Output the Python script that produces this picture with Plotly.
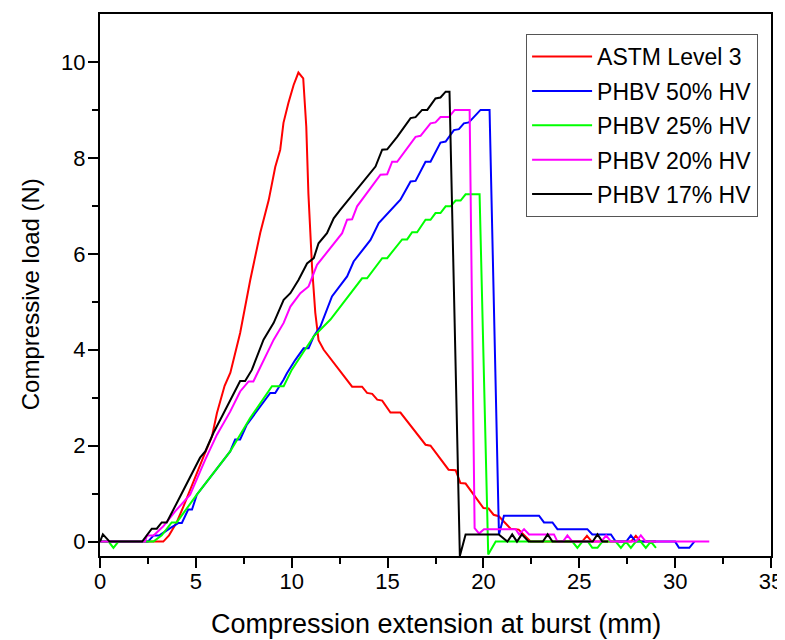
import plotly.graph_objects as go

# ---- data ----
astm_x = [0, 3.3, 3.6, 4.0, 4.35, 5.05, 5.4, 5.84, 6.1, 6.5, 6.8, 7.31, 7.84, 8.36, 8.8, 9.14, 9.4, 9.57, 9.83,
          10.1, 10.35, 10.6, 10.76, 10.87, 11.06, 11.23, 11.4, 11.67, 12.0, 12.54, 13.15, 13.67, 13.93, 14.2,
          14.46, 14.72, 15.15, 15.67, 16.98, 17.24, 18.18, 18.55, 18.8, 19.07, 20.0, 20.27, 20.53, 20.8, 21.42,
          21.84, 22.47, 25.15, 25.4, 25.65, 27.7, 27.95, 28.2, 29.0]
astm_y = [0, 0, 0.13, 0.4, 0.73, 1.44, 1.77, 2.19, 2.68, 3.25, 3.52, 4.35, 5.46, 6.44, 7.12, 7.81, 8.17, 8.73, 9.15,
          9.52, 9.78, 9.66, 8.65, 7.26, 5.73, 4.77, 4.2, 4.0, 3.83, 3.55, 3.23, 3.23, 3.1, 3.08,
          2.96, 2.94, 2.69, 2.69, 2.02, 2.0, 1.5, 1.49, 1.22, 1.21, 0.7, 0.69, 0.56, 0.53, 0.27,
          0.25, 0, 0, 0.12, 0, 0, 0.12, 0, 0]

hv50_x = [0, 2.5, 2.8, 3.1, 3.66, 4.1, 4.27, 4.6, 4.8, 5.05, 6.79, 7.05, 7.31, 7.66, 8.88, 9.14, 9.58, 9.75, 10.19,
          10.62, 10.88, 11.15, 11.5, 11.76, 12.1, 12.89, 13.23, 14.11, 14.54, 15.67, 16.2, 16.46, 16.98, 17.24,
          17.76, 18.03, 18.46, 18.72, 18.98, 19.24, 19.85, 20.32, 20.81, 21.07, 22.9, 23.16, 23.6, 23.86, 25.42,
          25.68, 26.65, 26.9, 27.45, 27.69, 27.95, 30.0, 30.2, 30.74, 31.0]
hv50_y = [0, 0, 0.13, 0.13, 0.28, 0.39, 0.39, 0.67, 0.67, 0.98, 1.88, 2.13, 2.13, 2.44, 3.1, 3.1, 3.38, 3.51, 3.79,
          4.03, 4.03, 4.28, 4.49, 4.76, 5.11, 5.53, 5.84, 6.29, 6.64, 7.13, 7.51, 7.52, 7.92, 7.92,
          8.32, 8.34, 8.58, 8.6, 8.72, 8.74, 9.0, 9.0, 0.15, 0.54, 0.54, 0.4, 0.4, 0.26, 0.26,
          0.15, 0.15, 0, 0, 0.13, 0, 0, -0.13, -0.13, 0]

hv25_x = [0, 0.45, 0.7, 0.96, 2.79, 3.22, 3.74, 4.0, 5.05, 6.79, 7.84, 8.97, 9.58, 10.0, 11.15, 12.02, 13.67, 13.93,
          14.72, 14.98, 15.76, 16.02, 16.28, 16.54, 16.98, 17.24, 17.5, 17.76, 18.03, 18.29, 18.55, 18.81, 19.07,
          19.8, 20.25, 20.64, 24.64, 24.9, 25.16, 25.45, 25.68, 25.95, 26.2, 26.9, 27.17, 27.43, 27.69, 27.95,
          28.2, 28.47, 28.73, 29.0]
hv25_y = [0, 0, -0.13, 0, 0, 0.13, 0.4, 0.4, 0.98, 1.88, 2.58, 3.24, 3.24, 3.58, 4.28, 4.63, 5.49, 5.49,
          5.91, 5.91, 6.3, 6.3, 6.45, 6.45, 6.71, 6.71, 6.85, 6.85, 6.99, 6.99, 7.11, 7.11, 7.24,
          7.24, -0.27, 0, 0, -0.13, 0, 0, -0.13, -0.13, 0, 0, -0.13, 0, -0.13, 0,
          0, -0.13, 0, -0.13]

hv20_x = [0, 2.35, 2.45, 2.8, 3.3, 3.92, 4.7, 5.49, 6.1, 6.79, 7.31, 7.75, 8.0, 8.53, 9.06, 9.58, 9.93, 10.45,
          10.88, 11.32, 12.02, 12.63, 12.89, 13.15, 13.41, 14.63, 14.98, 15.24, 15.5, 16.46, 16.72, 17.24, 17.5,
          17.76, 18.2, 18.5, 19.28, 19.54, 19.77, 20.03, 21.68, 21.86, 22.12, 22.38, 23.68, 23.86, 24.15, 24.38,
          24.64, 26.15, 26.4, 26.65, 27.95, 28.21, 28.47, 31.78]
hv20_y = [0, 0, 0.13, 0.13, 0.32, 0.63, 0.98, 1.71, 2.23, 2.71, 3.13, 3.34, 3.34, 3.79, 4.21, 4.56, 4.9, 5.18,
          5.32, 5.77, 6.12, 6.43, 6.71, 6.72, 6.99, 7.65, 7.66, 7.92, 7.92, 8.44, 8.46, 8.72, 8.74,
          8.85, 8.85, 9.0, 9.0, 0.28, 0.17, 0.26, 0.26, 0.15, 0.26, 0.15, 0.15, 0, 0, 0.13,
          0, 0, 0.13, 0, 0, 0.13, 0, 0]

hv17_x = [0, 0.15, 0.5, 2.2, 2.7, 2.96, 3.22, 3.48, 4.0, 4.7, 5.22, 5.49, 5.92, 6.36, 6.79, 7.31, 7.57, 7.92, 8.53,
          9.06, 9.58, 9.93, 10.36, 10.8, 11.15, 11.4, 11.84, 12.19, 12.54, 13.23, 13.93, 14.37, 14.72, 14.98,
          15.5, 16.2, 16.46, 16.8, 17.07, 17.5, 17.76, 18.03, 18.23, 18.77, 19.07, 20.8, 21.25, 21.5, 21.75,
          22.0, 22.36, 23.1, 23.35, 23.6, 25.7, 25.95, 26.2, 26.5]
hv17_y = [0, 0.15, 0, 0, 0.27, 0.27, 0.4, 0.4, 0.8, 1.33, 1.75, 1.88, 2.27, 2.61, 2.96, 3.35, 3.35, 3.58, 4.21,
          4.56, 5.04, 5.18, 5.46, 5.8, 5.91, 6.22, 6.43, 6.74, 6.92, 7.26, 7.61, 7.82, 8.17, 8.18,
          8.44, 8.83, 8.85, 9.0, 9.0, 9.24, 9.26, 9.38, 9.38, -0.3, 0.15, 0.15, 0, 0.15, 0,
          0.15, 0, 0, 0.15, 0, 0, 0.15, 0, 0]

series = [
    ("ASTM Level 3", astm_x, astm_y, "#FF0000"),
    ("PHBV 50% HV", hv50_x, hv50_y, "#0000FF"),
    ("PHBV 25% HV", hv25_x, hv25_y, "#00FF00"),
    ("PHBV 20% HV", hv20_x, hv20_y, "#FF00FF"),
    ("PHBV 17% HV", hv17_x, hv17_y, "#000000"),
]

x_ticks = [0, 5, 10, 15, 20, 25, 30, 35]
y_ticks = [0, 2, 4, 6, 8, 10]
x_title = "Compression extension at burst (mm)"
y_title = "Compressive load (N)"

FONT = "Liberation Sans, Arial, sans-serif"

fig = go.Figure()
for i, (name, xs, ys, col) in enumerate(series):
    fig.add_trace(go.Scatter(x=xs, y=ys, mode="lines", name=name, legendgroup=f"g{i}",
                             line=dict(color=col, width=2)))

# page body has an 8px default margin, so the figure is sized/offset to compensate
fig.update_layout(
    width=777, height=632, autosize=False,
    margin=dict(l=92, r=14, t=6, b=84, autoexpand=False),
    paper_bgcolor="white", plot_bgcolor="white",
    font=dict(family=FONT, color="black", size=20),
    showlegend=True,
    legend=dict(x=0.635, y=0.963, xanchor="left", yanchor="top",
                bordercolor="#555555", borderwidth=1, bgcolor="white",
                font=dict(family=FONT, size=23, color="black"),
                tracegroupgap=1.5, itemwidth=60),
    annotations=[
        dict(text=x_title, xref="paper", yref="paper", x=0.5, y=0, xanchor="center", yanchor="middle",
             yshift=-68, showarrow=False, font=dict(size=27, family=FONT, color="black")),
        dict(text=y_title, xref="paper", yref="paper", x=0, y=0.483, xanchor="center", yanchor="middle",
             xshift=-70, textangle=-90, showarrow=False, font=dict(size=24, family=FONT, color="black")),
    ],
)
fig.update_xaxes(range=[0, 35], tickvals=x_ticks, ticktext=[str(v) for v in x_ticks],
                 showgrid=False, zeroline=False, showline=True, linecolor="black", linewidth=2,
                 mirror=True, ticks="outside", ticklen=10, tickwidth=2, tickcolor="black",
                 tickfont=dict(size=22, family=FONT), automargin=False, ticklabelstandoff=-5,
                 minor=dict(tickvals=[2.5, 7.5, 12.5, 17.5, 22.5, 27.5, 32.5], ticks="outside",
                            ticklen=6, tickwidth=2, tickcolor="black"))
fig.update_yaxes(range=[-0.3, 11], tickvals=y_ticks, ticktext=[str(v) for v in y_ticks],
                 showgrid=False, zeroline=False, showline=True, linecolor="black", linewidth=2,
                 mirror=True, ticks="outside", ticklen=10, tickwidth=2, tickcolor="black",
                 tickfont=dict(size=22, family=FONT), automargin=False, ticklabelstandoff=-2,
                 minor=dict(tickvals=[1, 3, 5, 7, 9], ticks="outside",
                            ticklen=6, tickwidth=2, tickcolor="black"))

fig.write_html("out.html")
